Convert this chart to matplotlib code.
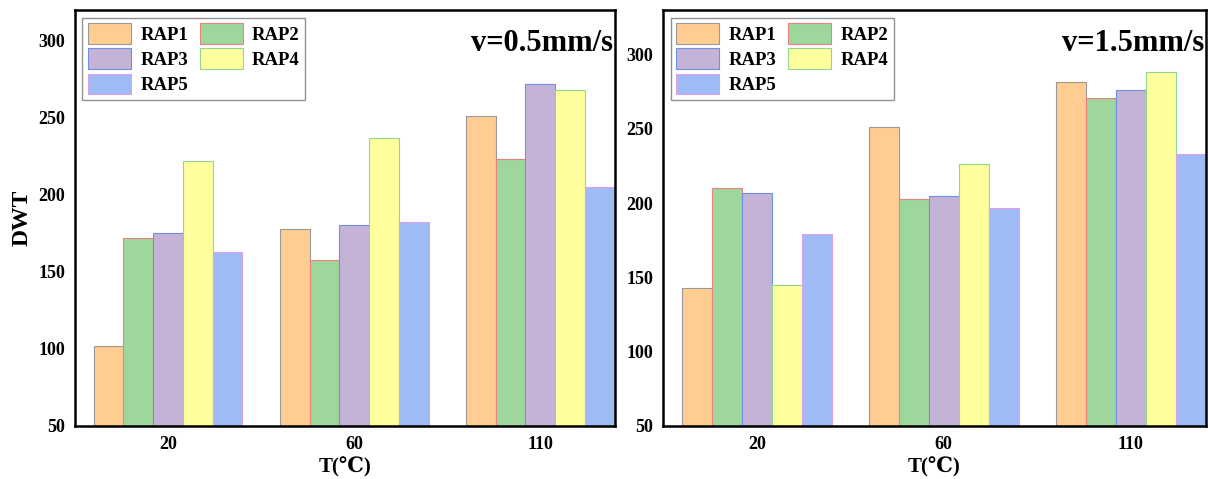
import numpy as np
import matplotlib
matplotlib.use("Agg")
import matplotlib.pyplot as plt

plt.rcParams.update({
    "font.family": ["Liberation Serif", "DejaVu Serif"],
    "font.weight": "bold",
})

temps = ["20", "60", "110"]
series = ["RAP1", "RAP2", "RAP3", "RAP4", "RAP5"]

# DWT at v=0.5mm/s
slow = {
    "RAP1": [102, 178, 251],
    "RAP2": [172, 158, 223],
    "RAP3": [175, 180.5, 272],
    "RAP4": [222, 237, 268],
    "RAP5": [163, 182.5, 205],
}

# DWT at v=1.5mm/s
fast = {
    "RAP1": [143, 251.5, 281.5],
    "RAP2": [210, 202.5, 271],
    "RAP3": [207, 205, 276.5],
    "RAP4": [145, 226, 288.5],
    "RAP5": [179, 196.5, 233],
}

face = ["#FFCC91", "#9DD79B", "#C5B3D7", "#FFFF9E", "#9EBBF5"]
edge = ["#999999", "#F08080", "#6F8FE0", "#8FD88F", "#E0A0E8"]

fig = plt.figure(figsize=(12.08, 4.79), dpi=100)
ax1 = fig.add_axes([0.062, 0.111, 0.447, 0.868])
ax2 = fig.add_axes([0.549, 0.111, 0.449, 0.868])

w = 0.16
x = np.arange(len(temps))

for ax, data, title, top in [(ax1, slow, "v=0.5mm/s", 320), (ax2, fast, "v=1.5mm/s", 330)]:
    bars = []
    for i, name in enumerate(series):
        b = ax.bar(x + (i - 2) * w, np.array(data[name]) - 50, w, bottom=50,
                   color=face[i], edgecolor=edge[i], linewidth=0.8, label=name)
        bars.append(b)
    ax.set_xlim(-0.5, 2.4)
    ax.set_ylim(50, top)
    ax.set_yticks([50, 100, 150, 200, 250, 300])
    ax.set_xticks(x)
    ax.set_xticklabels(temps)
    ax.tick_params(length=0, labelsize=13, pad=7)
    for lbl in ax.get_xticklabels() + ax.get_yticklabels():
        lbl.set_fontweight("bold")
    for sp in ax.spines.values():
        sp.set_linewidth(1.8)
    ax.set_xlabel("T(℃)", fontsize=15, fontweight="bold", labelpad=3)
    ax.text(0.997, 0.955, title, transform=ax.transAxes, ha="right", va="top",
            fontsize=22, fontweight="bold")
    # row-wise legend order: RAP1 RAP2 / RAP3 RAP4 / RAP5
    order = [0, 2, 4, 1, 3]
    ax.legend([bars[k] for k in order], [series[k] for k in order],
              loc="upper left", ncol=2, fancybox=False,
              edgecolor="#777777", handlelength=2.3, handleheight=1.3,
              columnspacing=0.6, labelspacing=0.25, borderaxespad=0.4,
              handletextpad=0.5, borderpad=0.3,
              prop={"weight": "bold", "size": 13.5,
                    "family": ["Liberation Serif", "DejaVu Serif"]})

ax1.set_ylabel("DWT", fontsize=17, fontweight="bold")

fig.savefig("out.png", dpi=100)
